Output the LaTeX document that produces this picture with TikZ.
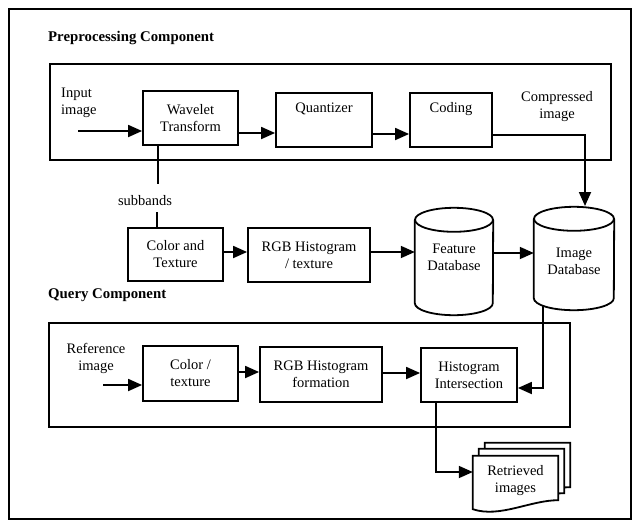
\documentclass[tikz,border=0pt]{standalone}
\usepackage{fontspec}
\setmainfont{Liberation Serif}
\usetikzlibrary{arrows.meta,calc}

% database cylinder drawn round a named (undrawn) node; #2 = horizontal radius
\newcommand{\dbdraw}[2]{%
  \draw[lw] ([yshift=-12pt]#1.north west) -- ([yshift=12pt]#1.south west)
    arc[start angle=180,end angle=360,x radius=#2,y radius=12pt]
    -- ([yshift=-12pt]#1.north east);
  \draw[lw] ([yshift=-12pt]#1.north) ellipse[x radius=#2,y radius=12pt];}

% one sheet of the document stack, offset (#1,#2) from node ret
\newcommand{\docsheet}[2]{%
  \draw[lw,fill=white] ($(ret.north west)+(#1,#2)$) -- ($(ret.north east)+(#1,#2)$)
    -- ($(ret.south east)+(#1,#2-10)$)
    .. controls ($(ret.south east)+(#1-28,#2-10)$) and ($(ret.south west)+(#1+27,#2+8)$)
    .. ($(ret.south west)+(#1,#2-1)$) -- cycle;}

\begin{document}
\begin{tikzpicture}[x=1pt,y=-1pt,
  every node/.style={inner sep=0pt},
  font=\fontsize{14.5}{17}\selectfont,
  lw/.style={line width=1.8pt},
  box/.style={draw,lw,align=center,minimum height=54pt},
  frame/.style={draw,lw},
  arr/.style={lw,-{Triangle[length=14pt,width=12pt]}},
  head/.style={anchor=base west,font=\fontsize{14.8}{17}\selectfont\bfseries},
  lbl/.style={align=center},
  lbll/.style={align=left}]

\fill[white] (0,0) rectangle (634,522);
\useasboundingbox (0,0) rectangle (634,522);

% frames
\node[frame,minimum width=622pt,minimum height=510pt] (outer) at (320,264) {};
\node[frame,minimum width=561pt,minimum height=96pt] (precont) at (330.5,112) {};
\node[frame,minimum width=521pt,minimum height=104pt] (qcont) at (309.5,375) {};

% headings
\node[head] (prehead) at (48,41) {Preprocessing Component};
\node[head] (qhead) at (48,298) {Query Component};

% preprocessing chain
\node[lbll,anchor=west] (inlbl) at (61,103) {Input\\image};
\node[box,minimum width=95pt] (wav) at (190.5,118) {Wavelet\\Transform};
\node[box,minimum width=96pt,text height=10pt,text depth=26pt] (quant) at (324,120) {Quantizer};
\node[box,minimum width=82pt,text height=10pt,text depth=26pt] (cod) at (451,120) {Coding};
\node[lbl] (cmplbl) at (557,107) {Compressed\\image};

\node[anchor=base] (sb) at (145,205) {subbands};
\node[box,minimum width=95pt,minimum height=53pt] (ctx) at (175.5,254.5) {Color and\\Texture};
\node[box,minimum width=122pt] (rgbt) at (309,255) {RGB Histogram\\/ texture};

% databases
\node[minimum width=78pt,minimum height=107pt] (fdb) at (454,261.5) {};
\node[minimum width=80pt,minimum height=103pt] (idb) at (574,258.5) {};
\dbdraw{fdb}{39pt}
\dbdraw{idb}{40pt}
\node[lbl] (fdbtxt) at (454,257) {Feature\\Database};
\node[lbl] (idbtxt) at (574,261) {Image\\Database};

% query chain
\node[lbl] (reflbl) at (96,358) {Reference\\image};
\node[box,minimum width=95pt,minimum height=55pt] (qcol) at (190.5,373.5) {Color /\\texture};
\node[box,minimum width=122pt,minimum height=55pt] (qrgb) at (321,374.5) {RGB Histogram\\formation};
\node[box,minimum width=96pt] (hist) at (469,375) {Histogram\\Intersection};

% retrieved document stack
\node[minimum width=85pt,minimum height=54pt] (ret) at (515.5,483) {};
\docsheet{12}{-13}
\docsheet{6}{-7}
\docsheet{0}{0}
\node[lbl] (rettxt) at (515.5,481) {Retrieved\\images};

% connectors
\coordinate (inS) at (78,131);
\draw[arr] (inS) -- (inS -| wav.west);
\draw[arr] (wav.east |- 0,133) -- (quant.west |- 0,133);
\draw[arr] (quant.east |- 0,134) -- (cod.west |- 0,134);
\coordinate (idbin) at (585,206);
\draw[arr] (cod.east |- 0,135) -| (idbin);

\coordinate (sbtop) at (158,184);
\draw[lw] (wav.south -| sbtop) -- (sbtop);
\coordinate (sbbot) at (157,212);
\draw[lw] (sbbot) -- (ctx.north -| sbbot);

\draw[arr] (ctx.east |- 0,252) -- (rgbt.west |- 0,252);
\draw[arr] (rgbt.east |- 0,252) -- (fdb.west |- 0,252);
\draw[arr] (fdb.east |- 0,253) -- (idb.west |- 0,253);

\coordinate (idbout) at (543,306);
\draw[arr] (idbout) |- (hist.east |- 0,388);

\coordinate (refS) at (103,385);
\draw[arr] (refS) -- (refS -| qcol.west);
\draw[arr] (qcol.east |- 0,372) -- (qrgb.west |- 0,372);
\draw[arr] (qrgb.east |- 0,373) -- (hist.west |- 0,373);

\draw[arr] (hist.south -| 436,0) |- (ret.west |- 0,472);
\end{tikzpicture}
\end{document}
